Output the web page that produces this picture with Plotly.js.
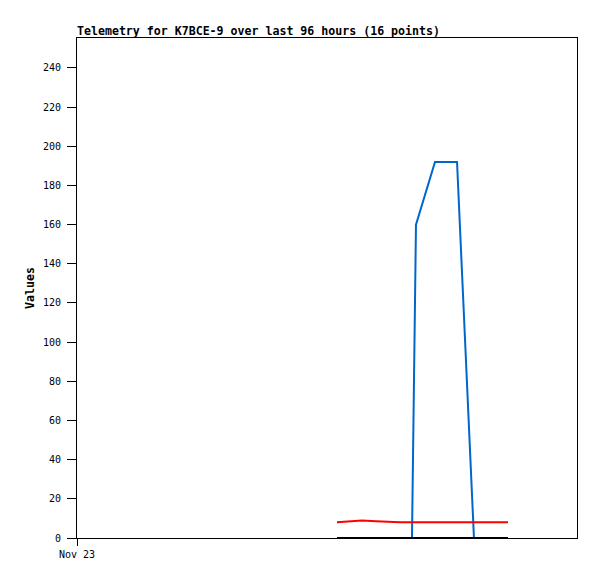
<!DOCTYPE html>
<html>
<head>
<meta charset="utf-8">
<script src="https://cdn.plot.ly/plotly-3.0.1.min.js"></script>
<style>html,body{margin:0;padding:0;background:#fff;}#chart{width:597px;height:579px;}</style>
</head>
<body>
<div id="chart"></div>
<script>
const times = [
  "2024-11-25 01:55", "2024-11-25 04:25", "2024-11-25 06:43", "2024-11-25 09:25",
  "2024-11-25 12:40", "2024-11-25 14:00", "2024-11-25 15:10", "2024-11-25 16:19",
  "2024-11-25 17:05", "2024-11-25 20:44", "2024-11-25 22:51", "2024-11-26 00:58",
  "2024-11-26 04:13", "2024-11-26 06:00", "2024-11-26 08:30", "2024-11-26 10:45"
];
const blueValues  = [0, 0, 0, 0, 0, 0, 0, 0, 160, 192, 192, 192, 0, 0, 0, 0];
const redValues   = [8.0, 8.4, 8.9, 8.5, 8.0, 8.0, 8.0, 8.0, 8.0, 8.0, 8.0, 8.0, 8.0, 8.0, 8.0, 8.0];
const blackValues = [0, 0, 0, 0, 0, 0, 0, 0, 0, 0, 0, 0, 0, 0, 0, 0];
const xTickVals = ["2024-11-23 00:00"];
const xTickText = ["Nov 23"];
const yTickVals = [0, 20, 40, 60, 80, 100, 120, 140, 160, 180, 200, 220, 240];

const mono = "DejaVu Sans Mono, monospace";
const traces = [
  {x: times, y: blueValues, type: "scatter", mode: "lines", line: {color: "#0066cc", width: 2}, hoverinfo: "skip"},
  {x: times, y: redValues, type: "scatter", mode: "lines", line: {color: "#ff0000", width: 2}, hoverinfo: "skip"},
  {x: times, y: blackValues, type: "scatter", mode: "lines", line: {color: "#000000", width: 2}, hoverinfo: "skip"}
];
const layout = {
  width: 597, height: 579,
  margin: {l: 77, r: 20, t: 38, b: 41, pad: 0},
  paper_bgcolor: "#ffffff", plot_bgcolor: "#ffffff",
  showlegend: false,
  title: {text: "<b>Telemetry for K7BCE-9 over last 96 hours (16 points)</b>",
          font: {family: mono, size: 11.6, color: "#000"},
          x: 0, xref: "paper", xanchor: "left", y: 1, yref: "paper", yanchor: "bottom", pad: {b: 3}},
  xaxis: {
    type: "date", range: ["2024-11-23 00:00", "2024-11-27 00:00"],
    tickmode: "array", tickvals: xTickVals, ticktext: xTickText,
    ticks: "outside", ticklen: 7, tickcolor: "#000", tickwidth: 1,
    showline: true, linecolor: "#000", linewidth: 1, mirror: true,
    showgrid: false, zeroline: false,
    tickfont: {family: mono, size: 10, color: "#000"}
  },
  yaxis: {
    range: [0, 255.3], tickmode: "array", tickvals: yTickVals,
    ticks: "outside", ticklen: 9, tickcolor: "#000", tickwidth: 1,
    ticklabelstandoff: 4,
    showline: true, linecolor: "#000", linewidth: 1, mirror: true,
    showgrid: false, zeroline: false,
    tickfont: {family: mono, size: 10, color: "#000"},
    title: {text: "<b>Values</b>", font: {family: mono, size: 11.6, color: "#000"}, standoff: 5}
  }
};
Plotly.newPlot("chart", traces, layout, {staticPlot: true, displayModeBar: false});
</script>
</body>
</html>
